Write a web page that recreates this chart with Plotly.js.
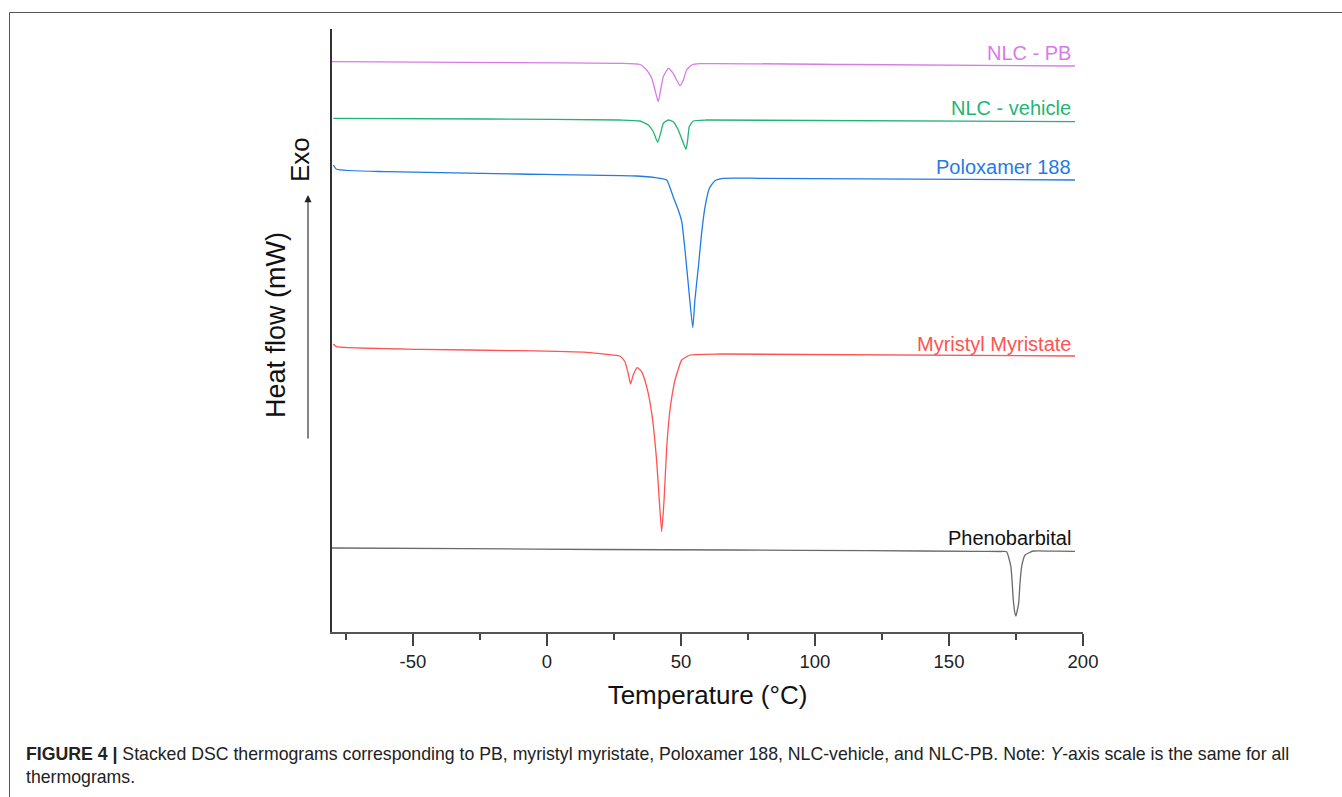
<!DOCTYPE html>
<html>
<head>
<meta charset="utf-8">
<script src="https://cdn.plot.ly/plotly-3.0.1.min.js"></script>
<style>
  html, body { margin: 0; padding: 0; background: #ffffff; }
  #chart { width: 1342px; height: 797px; }
</style>
</head>
<body>
<div id="chart"></div>
<script>
// Temperature (°C) and stacked heat flow (arbitrary offset units)
const nlcPbT = [-80.2, -13.8, 27.2, 34.7, 37.2, 39.1, 40.3, 41.5, 42.4, 43.4, 45.3, 47.1, 48.4, 49.6, 50.9, 52.1, 54.0, 57.1, 113.1, 197.0];
const nlcPbY = [57.03, 56.93, 56.87, 56.75, 56.2, 55.37, 54.2, 53.03, 54.2, 55.53, 56.37, 55.87, 55.2, 54.63, 55.2, 56.2, 56.7, 56.83, 56.75, 56.6];

const nlcVehT = [-79.7, -22.5, 27.2, 34.7, 37.8, 39.7, 41.3, 42.4, 43.4, 45.3, 47.1, 49.0, 50.9, 51.9, 52.5, 53.1, 54.6, 59.6, 197.0];
const nlcVehY = [51.37, 51.3, 51.2, 51.1, 50.7, 50.03, 48.97, 49.87, 50.87, 51.2, 51.03, 50.2, 48.87, 48.27, 49.2, 50.53, 51.1, 51.2, 51.03];

const poloxT = [-79.7, -78.5, -59.8, -10.1, 33.5, 42.2, 44.7, 47.1, 49.0, 50.3, 51.5, 52.7, 54.4, 55.2, 56.5, 57.7, 59.0, 60.6, 62.7, 65.8, 79.5, 197.0];
const poloxY = [46.7, 46.27, 46.03, 45.8, 45.6, 45.37, 45.2, 43.53, 42.2, 41.03, 38.2, 34.87, 30.43, 33.2, 36.53, 39.87, 42.53, 44.37, 45.13, 45.37, 45.37, 45.2];

const myrT = [-79.7, -78.5, -47.4, -10.1, 14.8, 22.3, 27.2, 29.1, 30.3, 31.2, 32.2, 33.7, 35.3, 37.2, 39.1, 40.9, 41.9, 42.8, 43.7, 44.7, 45.9, 47.8, 50.3, 53.4, 64.6, 197.0];
const myrY = [28.8, 28.53, 28.27, 28.13, 27.97, 27.77, 27.6, 27.03, 25.87, 24.8, 25.7, 26.43, 26.03, 24.53, 21.87, 17.2, 13.2, 10.03, 13.2, 18.53, 22.2, 25.2, 27.2, 27.7, 27.8, 27.6];

const phenoT = [-80.2, -30.0, 19.8, 70.0, 120.0, 160.0, 169.5, 171.5, 173.1, 174.0, 174.6, 175.0, 175.5, 176.0, 176.5, 177.1, 178.4, 181.5, 190.0, 197.0];
const phenoY = [8.4, 8.33, 8.25, 8.2, 8.13, 8.07, 8.05, 8.03, 6.53, 3.2, 1.87, 1.6, 2.2, 2.87, 4.87, 6.53, 7.7, 8.1, 8.08, 8.07];

const seriesNames = ["NLC - PB", "NLC - vehicle", "Poloxamer 188", "Myristyl Myristate", "Phenobarbital"];
const labelY = [57.9, 52.4, 46.5, 28.8, 9.4];
const xTickVals = [-50, 0, 50, 100, 150, 200];

const lineColors = ["#d97ae8", "#1fb573", "#1f7be6", "#ff5252", "#6a6a6a"];
const labelColors = ["#d97ae8", "#1fb573", "#1f7be6", "#ff5252", "#111111"];

const xs = [nlcPbT, nlcVehT, poloxT, myrT, phenoT];
const ys = [nlcPbY, nlcVehY, poloxY, myrY, phenoY];

const traces = xs.map((x, i) => ({
  x: x, y: ys[i], type: "scatter", mode: "lines", name: seriesNames[i],
  line: { color: lineColors[i], width: 1.3, shape: "spline", smoothing: 0.45 }, hoverinfo: "skip"
}));

const FONT = "Liberation Sans, Arial, Helvetica, sans-serif";

const annotations = seriesNames.map((n, i) => ({
  text: n, x: 196.3, y: labelY[i], xref: "x", yref: "y",
  xanchor: "right", yanchor: "middle", showarrow: false,
  font: { family: FONT, size: 20, color: labelColors[i] }
}));

// Y-axis title pieces
annotations.push({
  text: "Heat flow (mW)", xref: "paper", yref: "paper",
  x: (276 - 332) / 751, y: (632 - 325) / 603, xanchor: "center", yanchor: "middle",
  textangle: -90, showarrow: false, font: { family: FONT, size: 27, color: "#111" }
});
annotations.push({
  text: "Exo", xref: "paper", yref: "paper",
  x: (300 - 332) / 751, y: (632 - 160) / 603, xanchor: "center", yanchor: "middle",
  textangle: -90, showarrow: false, font: { family: FONT, size: 26, color: "#111" }
});
annotations.push({
  text: "", xref: "paper", yref: "paper",
  x: (308 - 332) / 751, y: (632 - 195) / 603, ax: 0, ay: 245,
  showarrow: true, arrowhead: 2, arrowsize: 1.3, arrowwidth: 1.1, arrowcolor: "#222",
  standoff: 0, startstandoff: 0
});
// Caption
annotations.push({
  text: "<b>FIGURE 4 |</b> Stacked DSC thermograms corresponding to PB, myristyl myristate, Poloxamer 188, NLC-vehicle, and NLC-PB. Note: <i>Y</i>-axis scale is the same for all<br>thermograms.",
  xref: "paper", yref: "paper", x: (24 - 332) / 751, y: (632 - 765) / 603,
  xanchor: "left", yanchor: "middle", align: "left", showarrow: false,
  font: { family: FONT, size: 17.7, color: "#222" }
});

const layout = {
  width: 1342, height: 797,
  margin: { l: 332, r: 259, t: 29, b: 165 },
  paper_bgcolor: "#ffffff", plot_bgcolor: "#ffffff",
  showlegend: false,
  font: { family: FONT, color: "#222" },
  xaxis: {
    range: [-80.2, 200], showgrid: false, zeroline: false,
    showline: true, linecolor: "#555", linewidth: 1.5,
    ticks: "outside", ticklen: 12, tickwidth: 1.3, tickcolor: "#444",
    tickvals: xTickVals, ticktext: xTickVals.map(String),
    tickfont: { family: FONT, size: 18.5, color: "#222" },
    minor: { dtick: 25, tick0: 25, ticks: "outside", ticklen: 6, tickwidth: 1.3, tickcolor: "#444", showgrid: false },
    title: { text: "Temperature (°C)", font: { family: FONT, size: 26, color: "#111" }, standoff: 15 }
  },
  yaxis: {
    range: [0, 60.3], showgrid: false, zeroline: false,
    showline: true, linecolor: "#333", linewidth: 1.6,
    ticks: "", showticklabels: false
  },
  annotations: annotations,
  shapes: [{
    type: "rect", xref: "paper", yref: "paper",
    x0: (9.5 - 332) / 751, x1: (1350 - 332) / 751,
    y0: (632 - 810) / 603, y1: (632 - 12.5) / 603,
    line: { color: "#555", width: 1 }, fillcolor: "rgba(0,0,0,0)", layer: "below"
  }]
};

Plotly.newPlot("chart", traces, layout, { staticPlot: true, displayModeBar: false });
</script>
</body>
</html>
